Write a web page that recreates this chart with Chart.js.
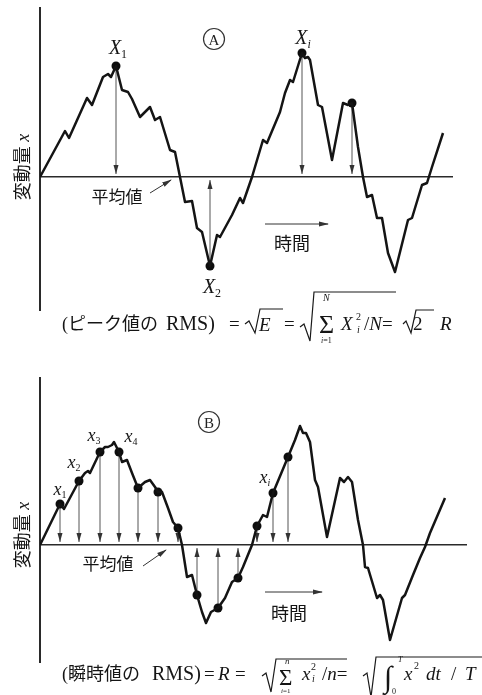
<!DOCTYPE html>
<html>
<head>
<meta charset="utf-8">
<script src="https://cdn.jsdelivr.net/npm/chart.js@4.4.1/dist/chart.umd.min.js"></script>
<style>
body{margin:0;background:#fff;width:482px;height:695px;position:relative;overflow:hidden;
  font-family:"Liberation Serif","Noto Sans CJK JP",serif;color:#151515}
canvas{position:absolute;left:0}
#cA{top:0}
#cB{top:330px}
.t{position:absolute;white-space:nowrap;line-height:1}
.jp{font-family:"Noto Sans CJK JP",sans-serif}
svg{position:absolute;left:0;top:0;pointer-events:none}
</style>
</head>
<body>
<canvas id="cA" width="482" height="330"></canvas>
<canvas id="cB" width="482" height="365"></canvas>
<svg id="deco" width="482" height="695"></svg>
<script>
// 1 DATA (time, deviation from mean value)
// panel A - waveform and its peaks
const waveAT = [0, 6.25, 7.25, 11.75, 13, 15.75, 17, 17.75, 19, 20.5, 22, 23, 25, 27.5, 28.75, 30, 32.5, 33.75, 35,
  36.25, 38, 39.25, 40.5, 42.5, 44.25, 45, 48, 50, 50.75, 53, 55.75, 56.75, 60, 61.25, 62.5, 63.25, 65.5,
  66.25, 67, 67.5, 69.5, 70.5, 73, 75.75, 77, 78, 79.5, 80.75, 81.75, 83, 84.25, 85.5, 87, 88.75, 92, 93,
  95.5, 96.75, 98, 100.75];
const waveAV = [0, 4.6, 3.9, 7.9, 7.2, 10, 10.3, 10, 11.1, 8.7, 8.5, 7.8, 6, 7, 5.7, 6, 2.7, 2.5, 0,
  -2.5, -2.4, -5.1, -5.5, -8.9, -5.8, -6, -3.8, -2.1, -2.6, 0, 3.7, 3.4, 6.5, 8.4, 9.7, 9.5, 12.4,
  11.9, 12, 11.7, 7.2, 7, 1.7, 7.4, 7.2, 7.4, 3, 0, -2, -1.8, -4.1, -4.1, -7.6, -9.5, -4.3, -4.1,
  -0.8, -0.6, 1, 4.4];
const peakAT = [19, 42.5, 65.5, 78];
const peakAV = [11.1, -8.9, 12.4, 7.4];

// panel B - waveform and its instantaneous samples
const waveBT = [0, 5, 6, 9.75, 11.25, 12, 12.5, 15, 16.25, 17, 18, 18.5, 19.25, 19.75, 20.5, 21.75, 23, 24.5,
  26.25, 27.5, 28.75, 29.5, 30.5, 32, 33.25, 34.5, 35.5, 36.75, 38, 39.25, 40.5, 41.5, 42.75, 44.5, 46.25,
  48, 49.5, 50.75, 53, 54.25, 55.75, 56.75, 58.25, 62, 63.75, 65, 65.75, 66.5, 67.5, 68.75, 69.5, 71.75,
  75, 76, 77, 78, 79.5, 80.75, 81.25, 82, 84.25, 85, 85.75, 87.5, 90.5, 91.25, 93.25, 95, 96.25, 97.5, 101.25];
const waveBV = [0, 4.1, 3.6, 6.4, 7.2, 7.4, 7.2, 9.3, 9.8, 9.8, 10, 10.3, 9.7, 9.3, 8.3, 8.5, 7.2, 5.7,
  6.3, 6.5, 5.8, 5.3, 5.3, 3.7, 2.3, 1.7, 0, -3.2, -3, -5, -6.7, -7.8, -6.7, -6.3, -5.3,
  -3.7, -3.3, -2.2, 0, 1.9, 3, 2.8, 5.2, 8.8, 10.5, 11.9, 11.2, 11.2, 10.3, 6.5, 5.8, 0.8,
  6.7, 6.3, 6.8, 6.3, 2.5, 0, -2.2, -2.3, -5.3, -5, -5.5, -9.5, -5.3, -5, -3, -1.3, -0.2, 1.2, 4.7];
const sampleBT = [5, 9.75, 15, 19.75, 24.5, 29.5, 34.5, 39.25, 44.5, 49.5, 54.25, 58.25, 62];
const sampleBV = [4.1, 6.4, 9.3, 9.3, 5.7, 5.3, 1.7, -5, -6.3, -3.3, 1.9, 5.2, 8.8];

// 2 ARROWS FROM EACH MARKED POINT TO THE MEAN LINE
const dropArrows = {
    id: 'dropArrows',
    beforeDatasetsDraw(chart){
        const ctx = chart.ctx;
        const y0 = chart.scales.y.getPixelForValue(0);
        ctx.save();
        ctx.strokeStyle = '#555';
        ctx.fillStyle = '#333';
        ctx.lineWidth = 1;
        chart.getDatasetMeta(1).data.forEach(p=>{
            const dir = p.y < y0 ? 1 : -1;
            const tip = y0 - dir * 3;
            ctx.beginPath();
            ctx.moveTo(p.x, p.y);
            ctx.lineTo(p.x, tip);
            ctx.stroke();
            const len = Math.min(9, Math.abs(tip - p.y) - 5);
            if(len > 3){
                ctx.beginPath();
                ctx.moveTo(p.x, tip);
                ctx.lineTo(p.x - 2.5, tip - dir * len);
                ctx.lineTo(p.x + 2.5, tip - dir * len);
                ctx.closePath();
                ctx.fill();
            }
        });
        ctx.restore();
    }
};

// 3 CHARTS
function makeChart(id, waveT, waveV, ptT, ptV, xMax, yMin, yMax, pad){
    return new Chart(document.getElementById(id), {
        type:'line',
        data:{
            datasets:[{
                data: waveT.map((t, i)=>({x:t, y:waveV[i]})),
                borderColor:'#141414',
                borderWidth:2.5,
                borderJoinStyle:'round',
                pointRadius:0,
                tension:0
            },{
                data: ptT.map((t, i)=>({x:t, y:ptV[i]})),
                showLine:false,
                pointRadius:4.5,
                pointBackgroundColor:'#0d0d0d',
                pointBorderWidth:0
            }]
        },
        options:{
            responsive:false,
            animation:false,
            devicePixelRatio:1,
            layout:{padding:pad},
            plugins:{legend:{display:false}, tooltip:{enabled:false}},
            scales:{
                x:{type:'linear', min:0, max:xMax, position:{y:0},
                   grid:{display:false, drawTicks:false}, ticks:{display:false},
                   border:{color:'#2a2a2a', width:1.6}},
                y:{type:'linear', min:yMin, max:yMax,
                   grid:{display:false, drawTicks:false}, ticks:{display:false},
                   border:{color:'#2a2a2a', width:2}}
            }
        },
        plugins:[dropArrows]
    });
}

makeChart('cA', waveAT, waveAV, peakAT, peakAV, 103, -13.3, 16.9, {left:40, right:30, top:8, bottom:20});
makeChart('cB', waveBT, waveBV, sampleBT, sampleBV, 106.5, -11.7, 16.7, {left:40, right:16, top:48, bottom:33});

// 4 TEXT
function put(html, x, y, size, centered, cls){
    const d = document.createElement('div');
    d.className = 't' + (cls ? ' ' + cls : '');
    d.innerHTML = html;
    d.style.left = x + 'px';
    d.style.top = y + 'px';
    d.style.fontSize = size + 'px';
    d.style.transform = centered ? 'translate(-50%,-50%)' : 'translateY(-50%)';
    document.body.appendChild(d);
    return d;
}
// panel A labels
put('<i>X</i><span style="font-size:12px;position:relative;top:4px">1</span>', 118, 47, 20, true);
put('<i>X</i><span style="font-size:12px;position:relative;top:4px"><i>i</i></span>', 303, 37, 20, true);
put('<i>X</i><span style="font-size:12px;position:relative;top:4px">2</span>', 212, 286, 20, true);
put('平均値', 117, 195, 17, true, 'jp');
put('時間', 292, 242, 18, true, 'jp');
put('<span class="jp">変動量</span> <i>x</i>', 22, 167, 18, true).style.transform = 'translate(-50%,-50%) rotate(-90deg)';
// panel B labels
const sub = s => '<i>x</i><span style="font-size:10px;position:relative;top:3px">' + s + '</span>';
put(sub('1'), 60, 489, 18, true);
put(sub('2'), 74, 462, 18, true);
put(sub('3'), 94, 435, 18, true);
put(sub('4'), 131, 436, 18, true);
put(sub('<i>i</i>'), 265, 477, 18, true);
put('平均値', 108, 562, 17, true, 'jp');
put('時間', 289, 612, 18, true, 'jp');
put('<span class="jp">変動量</span> <i>x</i>', 22, 535, 18, true).style.transform = 'translate(-50%,-50%) rotate(-90deg)';

// formula A
put('(<span class="jp">ピーク値の</span>', 62, 323, 18);
put('RMS)', 166, 323, 20);
put('=', 229, 323, 19);
put('<i>E</i>', 259, 324, 19);
put('=', 284, 323, 19);
put('<i>N</i>', 323, 298, 10);
put('Σ', 319, 325, 26);
put('<i>i</i>=1', 321, 341, 8);
put('<i>X</i>', 341, 323, 19);
put('2', 356, 317, 10);
put('<i>i</i>', 357, 330, 10);
put('/<i>N</i>=', 364, 323, 19);
put('2', 413, 323, 19);
put('<i>R</i>', 440, 323, 19);
// formula B
put('(<span class="jp">瞬時値の</span>', 62, 673, 18);
put('RMS)', 152, 673, 20);
put('=', 204, 673, 19);
put('<i>R</i>', 218, 673, 19);
put('=', 235, 673, 19);
put('<i>n</i>', 285, 661, 9);
put('Σ', 279, 677, 23);
put('<i>i</i>=1', 281, 691, 7);
put('<i>x</i>', 302, 673, 19);
put('2', 311, 667, 10);
put('<i>i</i>', 312, 679, 10);
put('/<i>n</i>=', 322, 673, 19);
put('∫', 384, 677, 30);
put('<i>T</i>', 398, 660, 8);
put('0', 392, 692, 8);
put('<i>x</i>', 404, 673, 19);
put('2', 414, 666, 10);
put('<i>dt</i>', 426, 673, 19);
put('/', 451, 673, 19);
put('<i>T</i>', 465, 673, 19);

// 5 DECORATION (leaders, time arrows, circled letters, radicals)
const svg = document.getElementById('deco');
svg.innerHTML = `
<defs><marker id="ah" markerWidth="10" markerHeight="6" refX="9" refY="3" orient="auto" markerUnits="userSpaceOnUse">
<path d="M0,0.5 L10,3 L0,5.5 z" fill="#333"/></marker></defs>
<g stroke="#333" stroke-width="1" fill="none">
<line x1="150" y1="193" x2="171" y2="180" marker-end="url(#ah)"/>
<line x1="143" y1="566" x2="166" y2="550" marker-end="url(#ah)"/>
<line x1="265" y1="224" x2="328" y2="224" marker-end="url(#ah)"/>
<line x1="265" y1="592" x2="322" y2="592" marker-end="url(#ah)"/>
<circle cx="214" cy="39" r="10.5" stroke-width="1.2"/>
<circle cx="209" cy="422" r="10.5" stroke-width="1.2"/>
</g>
<g stroke="#1a1a1a" stroke-width="1.2" fill="none" stroke-linejoin="miter">
<polyline points="245,324 249,321 255,333 260,309 283,309"/>
<polyline points="300,327 304,324 310,341 314,292 396,292"/>
<polyline points="403,324 406,321 411,333 416,310 434,310"/>
<polyline points="262,676 266,673 271,692 276,659 347,659"/>
<polyline points="363,676 367,673 371,697 376,657 482,657"/>
</g>
<g font-family="Liberation Serif" font-size="15" fill="#222" text-anchor="middle">
<text x="214" y="44.5">A</text>
<text x="209" y="427.5">B</text>
</g>`;
</script>
</body>
</html>
